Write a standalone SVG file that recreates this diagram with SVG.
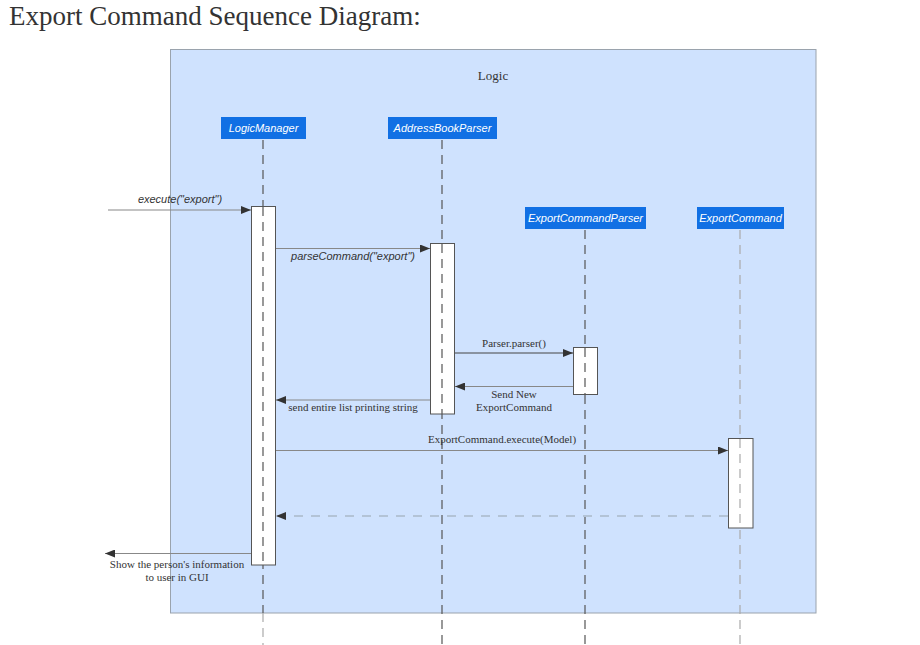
<svg xmlns="http://www.w3.org/2000/svg" width="920" height="645" viewBox="0 0 920 645">
<defs>
<style>
.title{font-family:"Liberation Serif",serif;font-size:27px;fill:#333}
.frame{fill:#cfe2fe;stroke:#9aa3ad;stroke-width:1}
.node rect{fill:#1170e4}
.node text{font-family:"Liberation Sans",Arial,sans-serif;font-style:italic;font-size:11px;fill:#fff;text-anchor:middle}
.life{stroke:#555;stroke-width:1.2;stroke-dasharray:9 6;fill:none}
.lifel{stroke:#aaa;stroke-width:1.2;stroke-dasharray:9 6;fill:none}
.act{fill:#fff;stroke:#555;stroke-width:1}
.msg{stroke:#888;stroke-width:1.2;fill:none;marker-end:url(#ah)}
.msgd{stroke:#444;stroke-width:1;fill:none;marker-end:url(#ah)}
.ret{stroke:#b3c3d6;stroke-width:2;stroke-dasharray:9 8;fill:none;marker-end:url(#ah)}
.lbls{font-family:"Liberation Sans",Arial,sans-serif;font-style:italic;font-size:11px;fill:#333;text-anchor:middle}
.lbl{font-family:"Liberation Serif",serif;font-size:11px;fill:#333;text-anchor:middle}
</style>
<marker id="ah" viewBox="0 0 10 8" refX="10" refY="4" markerWidth="10" markerHeight="8" markerUnits="userSpaceOnUse" orient="auto">
<path d="M0,0 L10,4 L0,8 z" fill="#333"/>
</marker>
</defs>
<rect width="920" height="645" fill="#fff"/>
<text class="title" x="9" y="25">Export Command Sequence Diagram:</text>
<g id="frame-logic">
<rect class="frame" x="170.5" y="49.5" width="645.5" height="563.5"/>
<text class="lbl" x="493" y="80" style="font-size:13px">Logic</text>
</g>
<g id="lifelines">
<line class="life" x1="263" y1="140" x2="263" y2="613"/>
<line class="lifel" x1="263" y1="613" x2="263" y2="645"/>
<line class="life" x1="442" y1="140" x2="442" y2="645"/>
<line class="life" x1="585" y1="230" x2="585" y2="645"/>
<line class="lifel" x1="740" y1="230" x2="740" y2="645"/>
</g>
<g id="LogicManager" class="node">
<rect x="221" y="117" width="85" height="22"/>
<text x="263.5" y="132">LogicManager</text>
</g>
<g id="AddressBookParser" class="node">
<rect x="388" y="117" width="109" height="22"/>
<text x="442.5" y="132">AddressBookParser</text>
</g>
<g id="ExportCommandParser" class="node">
<rect x="525" y="207" width="121" height="22"/>
<text x="585.5" y="222">ExportCommandParser</text>
</g>
<g id="ExportCommand" class="node">
<rect x="697" y="207" width="87" height="22"/>
<text x="740.5" y="222">ExportCommand</text>
</g>
<g id="activations">
<rect class="act" x="251.5" y="206.5" width="24" height="358.5"/>
<line class="life" x1="263" y1="207" x2="263" y2="565"/>
<rect class="act" x="430.5" y="243.5" width="24" height="170.5"/>
<line class="life" x1="442" y1="244" x2="442" y2="414"/>
<rect class="act" x="573.5" y="347.5" width="24" height="47"/>
<line class="life" x1="585" y1="348" x2="585" y2="394"/>
<rect class="act" x="728.5" y="438.5" width="24.5" height="89.5"/>
<line class="lifel" x1="740" y1="439" x2="740" y2="528"/>
</g>
<g id="connectors">
<line class="msg" x1="108" y1="210" x2="251" y2="210"/>
<text class="lbls" x="180" y="203">execute("export")</text>
<line class="msg" x1="276" y1="248.5" x2="430" y2="248.5"/>
<text class="lbls" x="353" y="260">parseCommand("export")</text>
<line class="msgd" x1="455" y1="353" x2="573" y2="353"/>
<text class="lbl" x="514" y="347">Parser.parser()</text>
<line class="msg" x1="573" y1="386.5" x2="455" y2="386.5"/>
<text class="lbl" x="514" y="398">Send New</text>
<text class="lbl" x="514" y="411">ExportCommand</text>
<line class="msg" x1="430" y1="400" x2="276" y2="400"/>
<text class="lbl" x="353" y="411">send entire list printing string</text>
<line class="msg" x1="276" y1="450.5" x2="728" y2="450.5"/>
<text class="lbl" x="502" y="443">ExportCommand.execute(Model)</text>
<line class="ret" x1="728" y1="516" x2="276" y2="516"/>
<line class="msg" x1="251" y1="553.5" x2="105" y2="553.5"/>
<text class="lbl" x="177" y="568">Show the person's information</text>
<text class="lbl" x="177" y="581">to user in GUI</text>
</g>
</svg>
